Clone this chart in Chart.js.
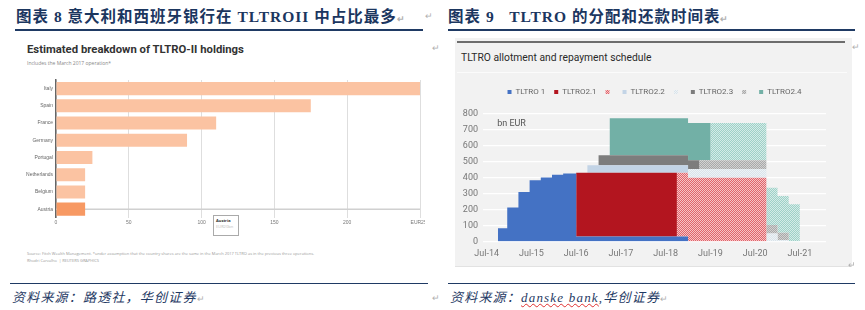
<!DOCTYPE html>
<html>
<head>
<meta charset="utf-8">
<script src="https://cdn.jsdelivr.net/npm/chart.js@4.4.1/dist/chart.umd.min.js"></script>
<style>
  body { margin: 0; width: 865px; height: 310px; position: relative; background: #fff; overflow: hidden; font-family: "Open Sans", sans-serif; }
  .abs { position: absolute; white-space: nowrap; }
  .cap { top: 4px; font-family: "Liberation Serif", "Noto Sans CJK SC", serif; font-weight: bold; font-size: 15.5px; color: #1b365f; letter-spacing: 1px; }
  .rule { height: 1.5px; background: #1f3a64; }
  .src { top: 287px; font-family: "Liberation Serif", "Noto Sans CJK SC", serif; font-style: italic; font-size: 13px; color: #1f3a64; letter-spacing: 1.2px; }
  .ret { color: #b0b0b0; font-size: 9px; font-style: normal; letter-spacing: 0; }
  .wavy { text-decoration: underline wavy #e03030; text-decoration-thickness: 1px; }
  #rt-panel { left: 455px; top: 38px; width: 397px; height: 228px; background: #f2f2f2; border-bottom: 1px solid #e2e2e2; }
</style>
</head>
<body>

<!-- ====== titoli ====== -->
<div class="abs cap" style="left:16px">图表 8 意大利和西班牙银行在 TLTROII 中占比最多<span class="ret">↵</span></div>
<div class="abs ret" style="left:425px;top:9px">↵</div>
<div class="abs rule" style="left:15px;top:29px;width:408px"></div>

<div class="abs cap" style="left:448px">图表 9&nbsp;&nbsp; TLTRO 的分配和还款时间表<span class="ret">↵</span></div>
<div class="abs rule" style="left:448px;top:29px;width:407px"></div>

<!-- ====== pannello sinistro (Reuters) ====== -->
<div class="abs" style="left:27px;top:43px;font-family:Roboto,sans-serif;font-weight:bold;font-size:11.3px;color:#333">Estimated breakdown of TLTRO-II holdings</div>
<div class="abs" style="left:27px;top:60px;font-size:5px;color:#888">Includes the March 2017 operation*</div>
<div class="abs ret" style="left:432px;top:41px">↵</div>
<canvas id="chart-holdings" class="abs" style="left:0;top:74px" width="425" height="156"></canvas>
<div class="abs" style="left:213px;top:215px;width:26px;height:21px;border:1px solid #aaa;background:#fff;font-size:4px;line-height:6px;padding:2px 0 0 2px;box-sizing:border-box">
  <div style="font-weight:bold;color:#333">Austria</div>
  <div style="color:#bbb">EUR20bn</div>
</div>
<div class="abs" style="left:27px;top:251px;font-size:4px;color:#999">Source: Fitch Wealth Management. *under assumption that the country shares are the same in the March 2017 TLTRO as in the previous three operations.</div>
<div class="abs" style="left:27px;top:258px;font-size:4px;color:#999">Rhodri Carvalho &nbsp;| REUTERS GRAPHICS</div>

<!-- ====== pannello destro (Danske) ====== -->
<div id="rt-panel" class="abs"></div>
<div class="abs" style="left:457px;top:41px;width:388px;height:2px;background:#6d6d6d"></div>
<div class="abs" style="left:461px;top:51px;font-family:Roboto,sans-serif;font-size:10.3px;color:#2a2a2a">TLTRO allotment and repayment schedule</div>
<div class="abs" style="left:457px;top:72px;width:390px;height:1px;background:#fbfbfb"></div>
<div class="abs ret" style="left:852px;top:40px">↵</div>
<canvas id="chart-tltro" class="abs" style="left:455px;top:76px" width="397" height="188"></canvas>
<div class="abs ret" style="left:848px;top:258px">↵</div>

<!-- ====== fonti ====== -->
<div class="abs rule" style="left:10px;top:283px;width:418px;height:1px"></div>
<div class="abs rule" style="left:448px;top:283px;width:407px;height:1px"></div>
<div class="abs src" style="left:12px">资料来源：路透社，华创证券<span class="ret">↵</span></div>
<div class="abs ret" style="left:432px;top:291px">↵</div>
<div class="abs src" style="left:450px">资料来源：<span class="wavy">danske bank</span>,华创证券<span class="ret">↵</span></div>

<script>
// --- 1. DATI: quote TLTRO-II per paese (mld EUR) ---
const countries = ['Italy', 'Spain', 'France', 'Germany', 'Portugal', 'Netherlands', 'Belgium', 'Austria'];
const holdingsBn = [250, 175, 110, 90, 25, 20, 20, 20];
const holdingsTicks = [0, 50, 100, 150, 200, 250];

// --- 2. DATI: piano allotment/rimborsi (mesi da Jul-14, valore valido fino al punto successivo) ---
const monthsFromJul14 = [3, 5.5, 8.5, 11.5, 14.5, 17.5, 20.5, 24, 27, 30, 33, 51, 54, 57, 60, 75, 78, 81, 84];
const tltro1        = [83, 213, 311, 385, 401, 419, 426, 32, 32, 32, 32, 32, 0, 0, 0, 0, 0, 0, 0];
const tltro21       = [0, 0, 0, 0, 0, 0, 0, 400, 400, 400, 400, 0, 0, 0, 0, 0, 0, 0, 0];
const tltro21Repaid = [0, 0, 0, 0, 0, 0, 0, 0, 0, 0, 0, 400, 400, 400, 400, 0, 0, 0, 0];
const tltro22       = [0, 0, 0, 0, 0, 0, 0, 0, 46, 46, 46, 46, 0, 0, 0, 0, 0, 0, 0];
const tltro22Repaid = [0, 0, 0, 0, 0, 0, 0, 0, 0, 0, 0, 0, 55, 55, 55, 50, 10, 0, 0];
const tltro23       = [0, 0, 0, 0, 0, 0, 0, 0, 0, 63, 63, 63, 55, 0, 0, 0, 0, 0, 0];
const tltro23Repaid = [0, 0, 0, 0, 0, 0, 0, 0, 0, 0, 0, 0, 0, 55, 55, 53, 45, 0, 0];
const tltro24       = [0, 0, 0, 0, 0, 0, 0, 0, 0, 0, 233, 233, 233, 233, 0, 0, 0, 0, 0];
const tltro24Repaid = [0, 0, 0, 0, 0, 0, 0, 0, 0, 0, 0, 0, 0, 0, 233, 234, 230, 233, 0];
const yearTickMonths = [0, 12, 24, 36, 48, 60, 72, 84];
const yearTickLabels = ['Jul-14', 'Jul-15', 'Jul-16', 'Jul-17', 'Jul-18', 'Jul-19', 'Jul-20', 'Jul-21'];

// --- 3. UTILITY ---
function dotted(base, dot) {
  const c = document.createElement('canvas');
  c.width = 2; c.height = 2;
  const g = c.getContext('2d');
  g.fillStyle = base; g.fillRect(0, 0, 2, 2);
  g.fillStyle = dot; g.fillRect(0, 0, 1, 1); g.fillRect(1, 1, 1, 1);
  return g.createPattern(c, 'repeat');
}

function serie(label, values, color, first) {
  return {
    label: label,
    data: values.map((v, i) => ({ x: monthsFromJul14[i], y: v })),
    backgroundColor: color,
    borderColor: 'rgba(0,0,0,0)',
    borderWidth: 0,
    pointRadius: 0,
    stepped: true,
    fill: first ? 'origin' : '-1'
  };
}

Chart.defaults.animation = false;
Chart.defaults.plugins.tooltip.enabled = false;

// --- 4. GRAFICO SINISTRO (barre orizzontali) ---
const hoverLine = {
  id: 'hoverLine',
  beforeDatasetsDraw(chart) {
    const { ctx, chartArea, scales } = chart;
    const y = scales.y.getPixelForValue(countries.length - 1);
    ctx.save();
    ctx.strokeStyle = '#d0d0d0';
    ctx.lineWidth = 1.5;
    ctx.beginPath();
    ctx.moveTo(chartArea.left, y);
    ctx.lineTo(chartArea.right, y);
    ctx.stroke();
    ctx.restore();
  }
};

new Chart(document.getElementById('chart-holdings'), {
  type: 'bar',
  data: {
    labels: countries,
    datasets: [{
      data: holdingsBn,
      backgroundColor: countries.map(c => c === 'Austria' ? '#f79963' : '#fbc3a2'),
      barPercentage: 0.76,
      categoryPercentage: 1
    }]
  },
  options: {
    indexAxis: 'y',
    responsive: false,
    layout: { padding: { top: 3.75, right: 5, left: 0, bottom: 0 } },
    plugins: { legend: { display: false } },
    scales: {
      x: {
        min: 0, max: 250,
        afterBuildTicks: s => { s.ticks = holdingsTicks.map(v => ({ value: v })); },
        afterFit: s => { s.height = 12.25; s.paddingLeft = 0; s.paddingRight = 0; },
        ticks: {
          padding: 2, color: '#777', font: { size: 5 }, maxRotation: 0,
          callback: v => v === 250 ? 'EUR250' : v
        },
        grid: { color: '#dedede', drawTicks: false },
        border: { display: false }
      },
      y: {
        afterFit: s => { s.width = 56; },
        ticks: { padding: 3, color: '#666', font: { size: 5 } },
        grid: { color: 'rgba(0,0,0,0)', drawTicks: false },
        border: { color: '#666', width: 1.5 }
      }
    }
  },
  plugins: [hoverLine]
});

// --- 5. GRAFICO DESTRO (aree a gradini impilate) ---
const legendBlock = {
  id: 'legendBlock',
  afterInit(chart) {
    const fit = chart.legend.fit;
    chart.legend.fit = function () { fit.call(this); this.height = 35; };
  }
};

const unitLabel = {
  id: 'unitLabel',
  afterDraw(chart) {
    const { ctx, scales } = chart;
    ctx.save();
    ctx.font = '9px Roboto, sans-serif';
    ctx.fillStyle = '#555';
    ctx.textBaseline = 'middle';
    ctx.fillText('bn EUR', scales.x.getPixelForValue(2.8), scales.y.getPixelForValue(740));
    ctx.restore();
  }
};

new Chart(document.getElementById('chart-tltro'), {
  type: 'line',
  data: {
    datasets: [
      serie('TLTRO 1', tltro1, '#4472c4', true),
      serie('TLTRO2.1', tltro21, '#b3151f'),
      serie('', tltro21Repaid, dotted('#f6c4c6', '#e0646b')),
      serie('TLTRO2.2', tltro22, '#c3d4e6'),
      serie('', tltro22Repaid, dotted('#eef3f6', '#d9e3ea')),
      serie('TLTRO2.3', tltro23, '#7d7d7d'),
      serie('', tltro23Repaid, dotted('#d2d2d2', '#a9a9a9')),
      serie('TLTRO2.4', tltro24, '#72b0a6'),
      serie('', tltro24Repaid, dotted('#d4ece8', '#9fd0c7'))
    ]
  },
  options: {
    responsive: false,
    layout: { padding: { top: 3, right: 26, left: 0, bottom: 0 } },
    plugins: {
      legend: {
        position: 'top',
        fullSize: false,
        labels: {
          boxWidth: 4, boxHeight: 4, padding: 9, color: '#666',
          font: { size: 8, family: 'Roboto, sans-serif' },
          filter: item => item.datasetIndex !== 8
        }
      }
    },
    scales: {
      x: {
        type: 'linear', min: -1, max: 91,
        afterBuildTicks: s => { s.ticks = yearTickMonths.map(v => ({ value: v })); },
        afterFit: s => { s.height = 22.5; s.paddingLeft = 0; s.paddingRight = 0; },
        ticks: {
          padding: 7, color: '#777', maxRotation: 0,
          font: { size: 9, family: 'Roboto, sans-serif' },
          callback: v => yearTickLabels[yearTickMonths.indexOf(v)]
        },
        grid: { display: false, drawTicks: false },
        border: { display: false }
      },
      y: {
        stacked: true, min: 0, max: 800,
        afterFit: s => { s.width = 28; },
        ticks: {
          stepSize: 100, padding: 5, color: '#777',
          font: { size: 9, family: 'Roboto, sans-serif' }
        },
        grid: { color: '#ffffff', lineWidth: 1.2, drawTicks: false },
        border: { display: false }
      }
    }
  },
  plugins: [legendBlock, unitLabel]
});
</script>
</body>
</html>
